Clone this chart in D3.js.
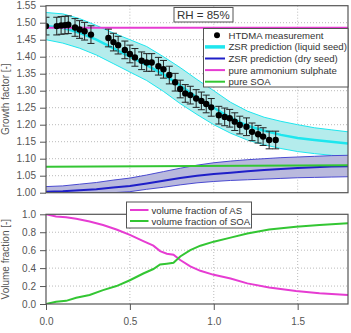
<!DOCTYPE html>
<html>
<head>
<meta charset="utf-8" />
<style>
html, body { margin: 0; padding: 0; background: #fff; }
svg { display: block; font-family: "Liberation Sans", Arial, sans-serif; }
.tick text { fill: #555; font-size: 10px; }
.tick line, .domain { stroke: #555; }
</style>
</head>
<body>
<div id="chart"></div>
<script src="https://cdn.jsdelivr.net/npm/d3@7"></script>
<script>

var htdmaX = [0.00, 0.064, 0.09, 0.113, 0.133, 0.173, 0.20, 0.23, 0.268, 0.372, 0.402, 0.43, 0.47, 0.50, 0.53, 0.57, 0.60, 0.63, 0.67, 0.70, 0.735, 0.77, 0.80, 0.83, 0.86, 0.895, 0.926, 0.955, 0.985, 1.03, 1.065, 1.095, 1.125, 1.155, 1.195, 1.228, 1.264, 1.294, 1.33, 1.369];
var htdmaGF = [1.490, 1.490, 1.492, 1.493, 1.494, 1.486, 1.480, 1.475, 1.465, 1.455, 1.443, 1.434, 1.420, 1.408, 1.398, 1.388, 1.383, 1.383, 1.372, 1.363, 1.346, 1.325, 1.305, 1.292, 1.287, 1.277, 1.270, 1.261, 1.251, 1.228, 1.223, 1.219, 1.209, 1.199, 1.194, 1.179, 1.172, 1.165, 1.155, 1.155];
var htdmaErr = 0.026;

// ZSR predictions
var zsrX = [0, 0.1, 0.2, 0.3, 0.4, 0.5, 0.6, 0.7, 0.8, 0.9, 1.0, 1.1, 1.2, 1.3, 1.4, 1.5, 1.6, 1.7, 1.8];
var liquidMid = [1.490, 1.485, 1.470, 1.450, 1.425, 1.400, 1.375, 1.348, 1.315, 1.280, 1.250, 1.220, 1.197, 1.182, 1.170, 1.161, 1.155, 1.150, 1.145];
var liquidHi  = [1.530, 1.526, 1.512, 1.492, 1.470, 1.450, 1.430, 1.400, 1.368, 1.333, 1.300, 1.266, 1.240, 1.222, 1.210, 1.200, 1.191, 1.185, 1.179];
var liquidLo  = [1.450, 1.440, 1.425, 1.405, 1.380, 1.355, 1.330, 1.298, 1.262, 1.230, 1.200, 1.175, 1.155, 1.141, 1.130, 1.121, 1.115, 1.110, 1.106];
var dryMid = [1.003, 1.004, 1.007, 1.010, 1.015, 1.020, 1.027, 1.035, 1.043, 1.050, 1.055, 1.059, 1.063, 1.067, 1.070, 1.073, 1.075, 1.077, 1.078];
var dryHi  = [1.018, 1.020, 1.025, 1.030, 1.037, 1.043, 1.052, 1.062, 1.072, 1.081, 1.088, 1.093, 1.097, 1.100, 1.103, 1.105, 1.107, 1.109, 1.110];
var dryLo  = [0.996, 0.997, 0.998, 0.999, 1.000, 1.003, 1.010, 1.016, 1.023, 1.029, 1.033, 1.036, 1.038, 1.040, 1.042, 1.044, 1.045, 1.046, 1.047];

// pure components
var pureX = [0, 1.8];
var pureAS = [1.485, 1.485];
var pureSOA = [1.076, 1.081];

// volume fractions
var fracX = [0, 0.06, 0.12, 0.18, 0.26, 0.34, 0.42, 0.5, 0.58, 0.64, 0.68, 0.72, 0.76, 0.8, 0.86, 0.92, 1.0, 1.1, 1.2, 1.33, 1.49, 1.63, 1.8];
var fracAS  = [1.0, 0.975, 0.967, 0.95, 0.92, 0.88, 0.83, 0.77, 0.70, 0.65, 0.59, 0.56, 0.55, 0.49, 0.42, 0.37, 0.325, 0.285, 0.23, 0.185, 0.145, 0.12, 0.10];
var fracSOA = [0.0, 0.025, 0.035, 0.07, 0.10, 0.155, 0.20, 0.265, 0.34, 0.39, 0.44, 0.45, 0.46, 0.53, 0.60, 0.65, 0.695, 0.74, 0.785, 0.83, 0.86, 0.88, 0.90];

var xTicks = [0, 0.5, 1.0, 1.5];
var gfTicks = [1.00, 1.05, 1.10, 1.15, 1.20, 1.25, 1.30, 1.35, 1.40, 1.45, 1.50, 1.55];
var vfTicks = [0, 0.2, 0.4, 0.6, 0.8, 1.0];

var cMagenta = "#e63cd2", cGreen = "#33c633", cCyan = "#1ee6ee", cBlue = "#1f1fc8";

var W = 351, H = 333;
var svg = d3.select("#chart").append("svg").attr("width", W).attr("height", H);

var x = d3.scaleLinear().domain([0, 1.8]).range([46, 348]);
var yTop = d3.scaleLinear().domain([1.0, 1.55]).range([192.7, 5.7]);
var yBot = d3.scaleLinear().domain([0, 1]).range([304, 214.3]);

function zipXY(xs, ys) { return xs.map(function(v, i) { return [v, ys[i]]; }); }

// clip paths
var defs = svg.append("defs");
defs.append("clipPath").attr("id", "clipTop").append("rect")
	.attr("x", x(0)).attr("y", yTop(1.55)).attr("width", x(1.8) - x(0)).attr("height", yTop(1.0) - yTop(1.55));
defs.append("clipPath").attr("id", "clipBot").append("rect")
	.attr("x", x(0)).attr("y", yBot(1)).attr("width", x(1.8) - x(0)).attr("height", yBot(0) - yBot(1));

// grids
function grid(yScale, yVals) {
	var g = svg.append("g").attr("stroke", "#bbb").attr("stroke-dasharray", "1,2").attr("stroke-width", 1);
	g.selectAll(".gx").data(xTicks.slice(1)).enter().append("line")
		.attr("x1", function(d) { return x(d); }).attr("x2", function(d) { return x(d); })
		.attr("y1", yScale.range()[0]).attr("y2", yScale.range()[1]);
	g.selectAll(".gy").data(yVals).enter().append("line")
		.attr("x1", x(0)).attr("x2", x(1.8))
		.attr("y1", function(d) { return yScale(d); }).attr("y2", function(d) { return yScale(d); });
}
grid(yTop, gfTicks.slice(1, -1));
grid(yBot, vfTicks.slice(1, -1));

// ---- top panel ----
var gTop = svg.append("g").attr("clip-path", "url(#clipTop)");
var line = d3.line().x(function(d) { return x(d[0]); }).y(function(d) { return yTop(d[1]); });

function band(lo, hi, fill, edge) {
	var area = d3.area().x(function(d, i) { return x(zsrX[i]); })
		.y0(function(d, i) { return yTop(lo[i]); }).y1(function(d, i) { return yTop(hi[i]); });
	gTop.append("path").datum(zsrX).attr("d", area).attr("fill", fill);
	gTop.append("path").datum(zipXY(zsrX, lo)).attr("d", line).attr("fill", "none").attr("stroke", edge).attr("stroke-width", 1);
	gTop.append("path").datum(zipXY(zsrX, hi)).attr("d", line).attr("fill", "none").attr("stroke", edge).attr("stroke-width", 1);
}
band(liquidLo, liquidHi, "#b4ecec", cCyan);
band(dryLo, dryHi, "#b9b9dd", "#4a4ad0");

gTop.append("path").datum(zipXY(zsrX, liquidMid)).attr("d", line)
	.attr("fill", "none").attr("stroke", cCyan).attr("stroke-width", 2.5);
gTop.append("path").datum(zipXY(zsrX, dryMid)).attr("d", line)
	.attr("fill", "none").attr("stroke", cBlue).attr("stroke-width", 2);
gTop.append("path").datum(zipXY(pureX, pureAS)).attr("d", line)
	.attr("fill", "none").attr("stroke", cMagenta).attr("stroke-width", 2);
gTop.append("path").datum(zipXY(pureX, pureSOA)).attr("d", line)
	.attr("fill", "none").attr("stroke", cGreen).attr("stroke-width", 2);

// HTDMA points with error bars
var pts = gTop.selectAll(".pt").data(zipXY(htdmaX, htdmaGF)).enter().append("g");
pts.append("line")
	.attr("x1", function(d) { return x(d[0]); }).attr("x2", function(d) { return x(d[0]); })
	.attr("y1", function(d) { return yTop(d[1] - htdmaErr); }).attr("y2", function(d) { return yTop(d[1] + htdmaErr); })
	.attr("stroke", "#222").attr("stroke-width", 1);
[-1, 1].forEach(function(s) {
	pts.append("line")
		.attr("x1", function(d) { return x(d[0]) - 3.5; }).attr("x2", function(d) { return x(d[0]) + 3.5; })
		.attr("y1", function(d) { return yTop(d[1] + s * htdmaErr); }).attr("y2", function(d) { return yTop(d[1] + s * htdmaErr); })
		.attr("stroke", "#222").attr("stroke-width", 1);
});
pts.append("circle")
	.attr("cx", function(d) { return x(d[0]); }).attr("cy", function(d) { return yTop(d[1]); })
	.attr("r", 3.2).attr("fill", "#000");

// ---- bottom panel ----
var gBot = svg.append("g").attr("clip-path", "url(#clipBot)");
var lineB = d3.line().x(function(d) { return x(d[0]); }).y(function(d) { return yBot(d[1]); });
gBot.append("path").datum(zipXY(fracX, fracAS)).attr("d", lineB)
	.attr("fill", "none").attr("stroke", cMagenta).attr("stroke-width", 2);
gBot.append("path").datum(zipXY(fracX, fracSOA)).attr("d", lineB)
	.attr("fill", "none").attr("stroke", cGreen).attr("stroke-width", 2);

// axes + frames
svg.append("g").attr("transform", "translate(" + x(0) + ",0)")
	.call(d3.axisLeft(yTop).tickValues(gfTicks).tickFormat(d3.format(".2f")).tickSize(6).tickPadding(4))
	.call(function(g) { g.select(".domain").remove(); });
svg.append("g").attr("transform", "translate(" + x(0) + ",0)")
	.call(d3.axisLeft(yBot).tickValues(vfTicks).tickFormat(d3.format(".1f")).tickSize(6).tickPadding(4))
	.call(function(g) { g.select(".domain").remove(); });
svg.append("g").attr("transform", "translate(0," + yBot(0) + ")")
	.call(d3.axisBottom(x).tickValues(xTicks).tickFormat(d3.format(".1f")).tickSize(6).tickPadding(8))
	.call(function(g) { g.select(".domain").remove(); });

svg.append("rect").attr("x", x(0)).attr("y", yTop(1.55)).attr("width", x(1.8) - x(0)).attr("height", yTop(1.0) - yTop(1.55))
	.attr("fill", "none").attr("stroke", "#555").attr("stroke-width", 1.2);
svg.append("rect").attr("x", x(0)).attr("y", yBot(1)).attr("width", x(1.8) - x(0)).attr("height", yBot(0) - yBot(1))
	.attr("fill", "none").attr("stroke", "#555").attr("stroke-width", 1.2);

// axis titles
svg.append("text").attr("transform", "translate(9," + ((yTop(1.0) + yTop(1.55)) / 2) + ") rotate(-90)")
	.attr("text-anchor", "middle").attr("font-size", 10).attr("fill", "#555").text("Growth factor  [-]");
svg.append("text").attr("transform", "translate(9," + ((yBot(0) + yBot(1)) / 2) + ") rotate(-90)")
	.attr("text-anchor", "middle").attr("font-size", 10).attr("fill", "#555").text("Volume fraction  [-]");

// RH label
svg.append("rect").attr("x", 174).attr("y", 7.5).attr("width", 59).attr("height", 14.5)
	.attr("fill", "#fff").attr("stroke", "#555");
svg.append("text").attr("x", 177).attr("y", 19).attr("font-size", 11.5).attr("fill", "#333").text("RH = 85%");

// top legend
var legTop = [
	{ label: "HTDMA measurement", color: "#000", type: "dot" },
	{ label: "ZSR prediction (liquid seed)", color: cCyan, type: "line", w: 3.5 },
	{ label: "ZSR prediction (dry seed)", color: cBlue, type: "line", w: 2 },
	{ label: "pure ammonium sulphate", color: cMagenta, type: "line", w: 2 },
	{ label: "pure SOA", color: cGreen, type: "line", w: 2 }
];
var lt = svg.append("g");
lt.append("rect").attr("x", 203.5).attr("y", 28.5).attr("width", 144.5).attr("height", 58.5)
	.attr("fill", "#fff").attr("stroke", "#555");
legTop.forEach(function(d, i) {
	var yy = 35.3 + i * 11.6;
	if (d.type === "dot") {
		lt.append("circle").attr("cx", 217).attr("cy", yy).attr("r", 3).attr("fill", d.color);
	} else {
		lt.append("line").attr("x1", 205).attr("x2", 225).attr("y1", yy).attr("y2", yy)
			.attr("stroke", d.color).attr("stroke-width", d.w);
	}
	lt.append("text").attr("x", 228.5).attr("y", yy + 3.5).attr("font-size", 9.6)
		.attr("textLength", null).attr("fill", "#333").text(d.label);
});

// bottom legend
var legBot = [
	{ label: "volume fraction of AS", color: cMagenta },
	{ label: "volume fraction of SOA", color: cGreen }
];
var lb = svg.append("g");
lb.append("rect").attr("x", 126.5).attr("y", 202).attr("width", 125).attr("height", 26)
	.attr("fill", "#fff").attr("stroke", "#555");
legBot.forEach(function(d, i) {
	var yy = 210 + i * 11;
	lb.append("line").attr("x1", 130).attr("x2", 148.5).attr("y1", yy).attr("y2", yy)
		.attr("stroke", d.color).attr("stroke-width", 2);
	lb.append("text").attr("x", 151.5).attr("y", yy + 3.5).attr("font-size", 9.6).attr("fill", "#333").text(d.label);
});

</script>
</body>
</html>
